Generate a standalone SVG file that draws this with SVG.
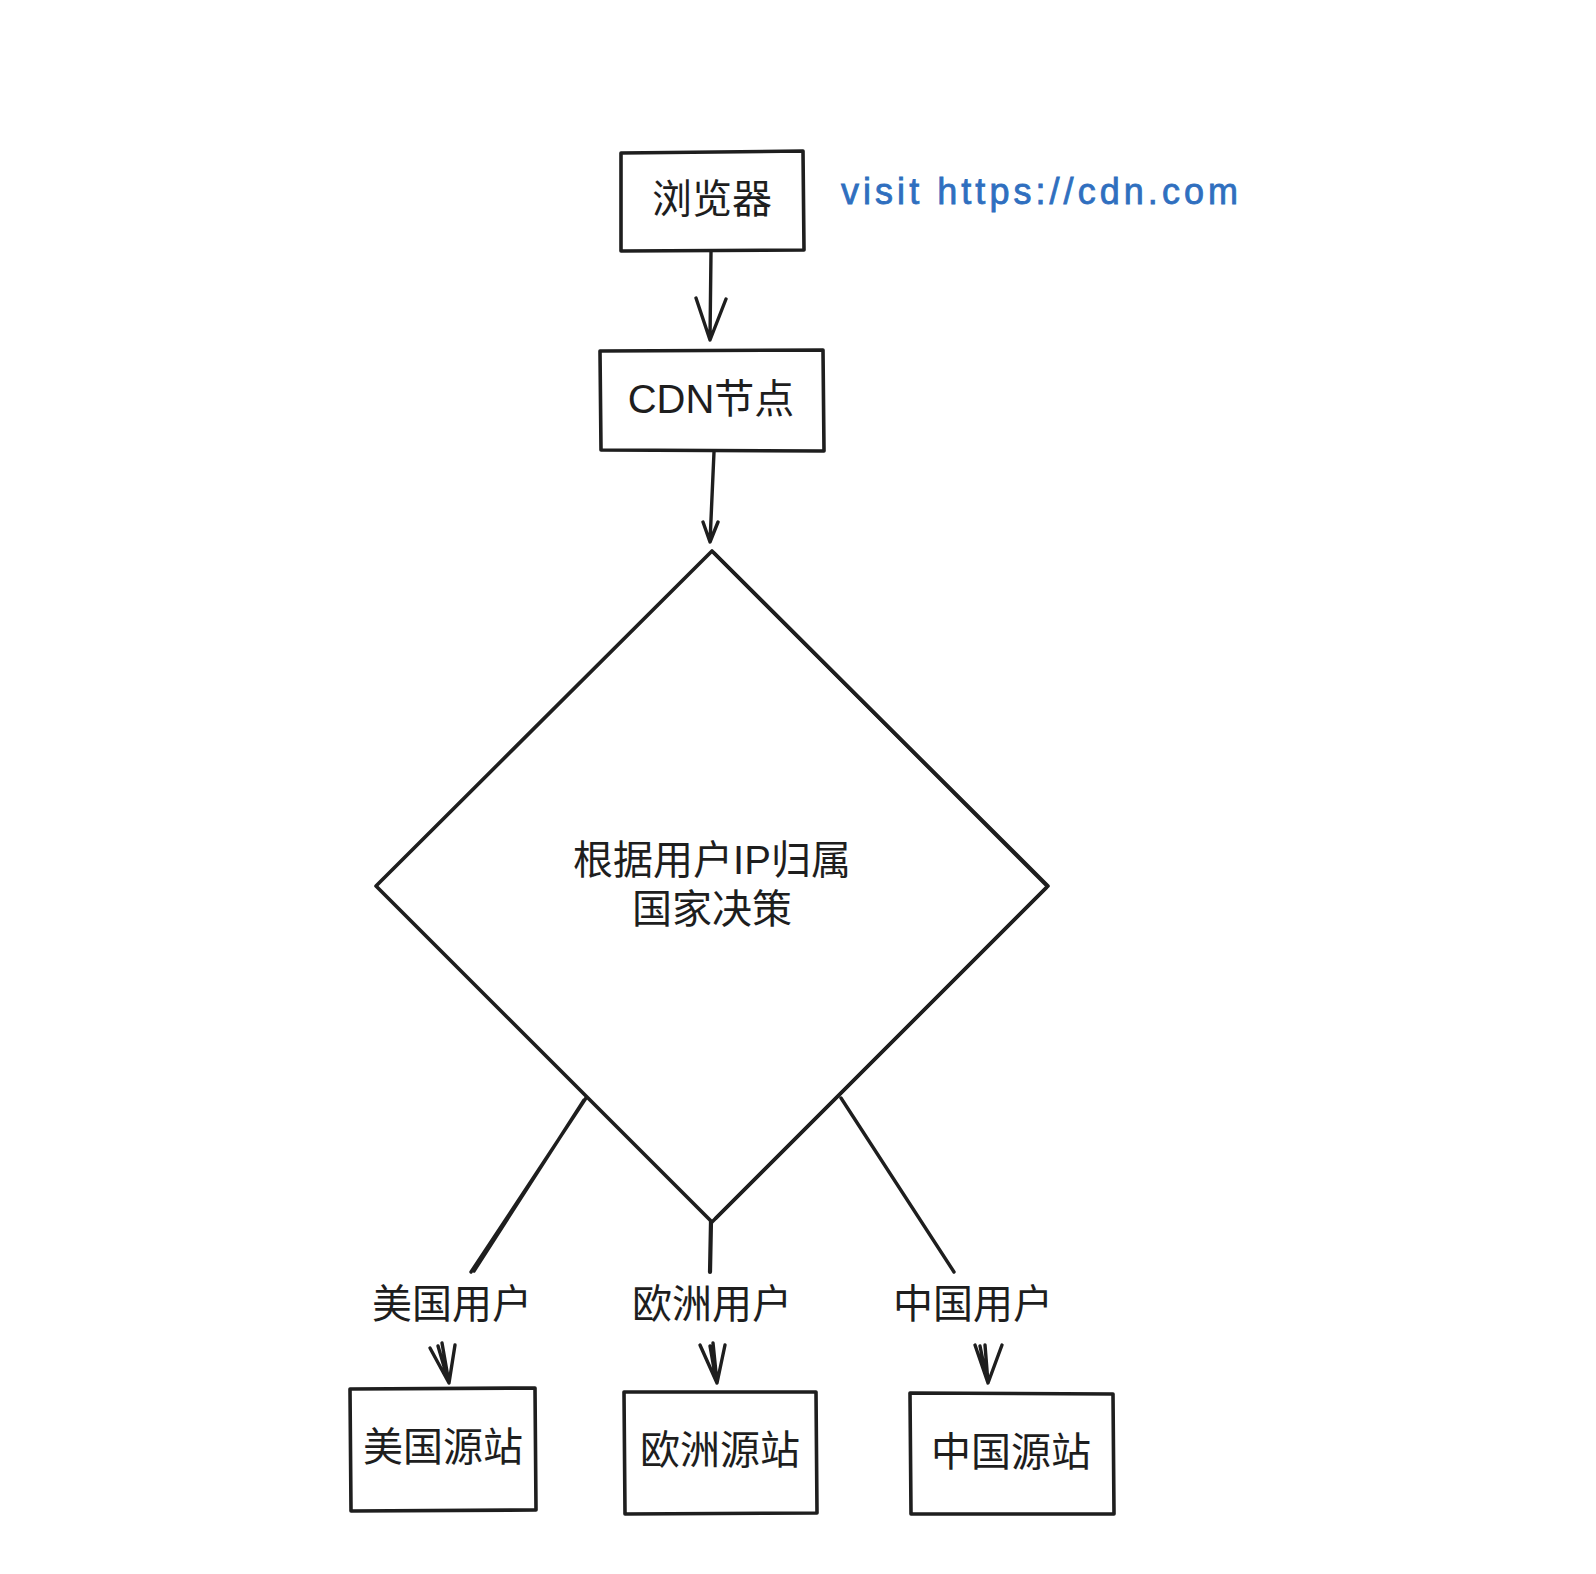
<svg xmlns="http://www.w3.org/2000/svg" width="1596" height="1574" viewBox="0 0 1596 1574">
<style>
.s{fill:none;stroke:#1e1e1e;stroke-width:3.4;stroke-linecap:round;stroke-linejoin:round}
.b{fill:#ffffff;stroke:#1e1e1e;stroke-width:3.6;stroke-linecap:round;stroke-linejoin:round}
.t{font-family:"Liberation Sans","Noto Sans CJK SC",sans-serif;font-size:40px;fill:#1e1e1e;text-anchor:middle}
.u{font-family:"Liberation Sans","Noto Sans",sans-serif;font-size:36px;fill:#2f6fbf;stroke:#2f6fbf;stroke-width:0.8}
</style>
<rect width="1596" height="1574" fill="#ffffff"/>
<g id="connectors">
<path class="s" d="M711 252 L710 340 M696 298 L710 340 L726 299"/>
<path class="s" d="M714 452 L710 542 M703 522 L710 542 L718 522"/>
<path class="s" d="M586 1098 L471 1272 M584 1100 L474 1271"/>
<path class="s" d="M711 1221 L710 1272" style="stroke-width:4.2"/>
<path class="s" d="M841 1098 L954 1272"/>
<path class="s" d="M442 1343 L449 1383 M430 1348 L449 1383 L455 1345 M438 1346 L448 1380"/>
<path class="s" d="M713 1343 L717 1383 M700 1345 L717 1383 L725 1345 M710 1346 L716 1380"/>
<path class="s" d="M985 1345 L988 1383 M975 1345 L988 1383 L1002 1345 M980 1346 L987 1380"/>
</g>
<g id="browser">
<path class="b" d="M621 153 L803 151 L804 250 L621 251 Z"/>
<text class="t" x="712" y="213">浏览器</text>
</g>
<text id="visit-note" class="u" x="841" y="204" textLength="397" lengthAdjust="spacing">visit https://cdn.com</text>
<g id="cdn-node">
<path class="b" d="M600 351 L823 350 L824 451 L601 450 Z"/>
<text class="t" x="711" y="413">CDN节点</text>
</g>
<g id="decision">
<path class="b" d="M712 551 L1048 886 L712 1222 L376 886 Z"/>
<path class="s" d="M714 553 L1046 885 M1046 888 L716 1218"/>
<text class="t" x="712" y="874">根据用户IP归属</text>
<text class="t" x="712" y="923">国家决策</text>
</g>
<g id="label-us"><text class="t" x="452" y="1318">美国用户</text></g>
<g id="label-eu"><text class="t" x="712" y="1318">欧洲用户</text></g>
<g id="label-cn"><text class="t" x="973" y="1318">中国用户</text></g>
<g id="origin-us">
<path class="b" d="M350 1389 L535 1388 L536 1510 L351 1511 Z"/>
<text class="t" x="443" y="1461">美国源站</text>
</g>
<g id="origin-eu">
<path class="b" d="M624 1392 L816 1392 L817 1513 L625 1514 Z"/>
<text class="t" x="720" y="1464">欧洲源站</text>
</g>
<g id="origin-cn">
<path class="b" d="M910 1393 L1113 1394 L1114 1514 L911 1514 Z"/>
<text class="t" x="1011" y="1466">中国源站</text>
</g>
</svg>
